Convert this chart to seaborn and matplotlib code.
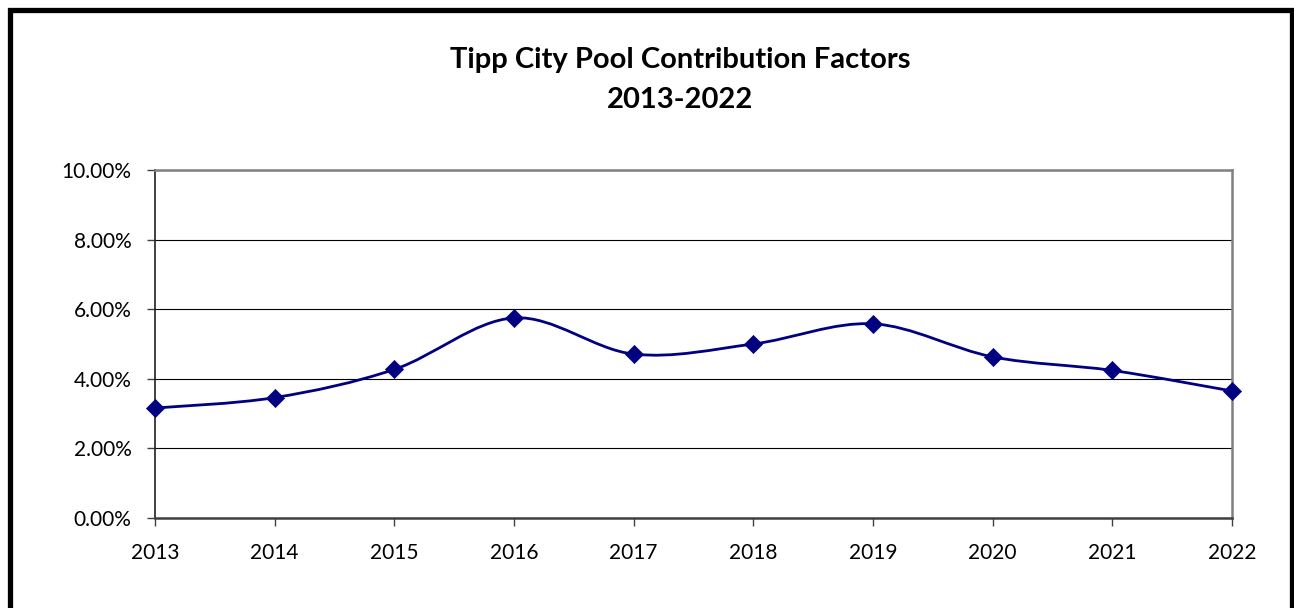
import numpy as np
import pandas as pd
import seaborn as sns
import matplotlib
matplotlib.use('Agg')
import matplotlib.pyplot as plt
from matplotlib.path import Path
from matplotlib.patches import PathPatch, Rectangle
from matplotlib.ticker import PercentFormatter

years = ["2013", "2014", "2015", "2016", "2017", "2018", "2019", "2020", "2021", "2022"]
factors = [3.16, 3.46, 4.27, 5.75, 4.71, 5.00, 5.58, 4.63, 4.24, 3.65]
y_ticks = [0, 2, 4, 6, 8, 10]
title_lines = ["Tipp City Pool Contribution Factors", "2013-2022"]

line_color = "#000080"

sns.set_theme(style="white")
plt.rcParams['font.family'] = ['Lato', 'DejaVu Sans']

df = pd.DataFrame({"year": years, "factor": factors})

fig = plt.figure(figsize=(12.94, 6.08), dpi=100)
ax = fig.add_axes([155 / 1294, 1 - 518 / 608, (1232 - 155) / 1294, (518 - 170) / 608])

# smoothed line like excel: bezier segments through the points
xs = np.arange(len(df))
ys = df["factor"].to_numpy()
verts = [(xs[0], ys[0])]
codes = [Path.MOVETO]
for i in range(len(xs) - 1):
    p0 = (xs[max(i - 1, 0)], ys[max(i - 1, 0)])
    p1 = (xs[i], ys[i])
    p2 = (xs[i + 1], ys[i + 1])
    p3 = (xs[min(i + 2, len(xs) - 1)], ys[min(i + 2, len(xs) - 1)])
    c1 = (p1[0] + (p2[0] - p0[0]) / 6, p1[1] + (p2[1] - p0[1]) / 6)
    c2 = (p2[0] - (p3[0] - p1[0]) / 6, p2[1] - (p3[1] - p1[1]) / 6)
    verts += [c1, c2, p2]
    codes += [Path.CURVE4] * 3
ax.add_patch(PathPatch(Path(verts, codes), facecolor="none", edgecolor=line_color, lw=2, zorder=3))

sns.scatterplot(data=df, x="year", y="factor", marker="D", s=85, color=line_color,
                edgecolor=line_color, linewidth=0.5, ax=ax, zorder=4, clip_on=False)

ax.set_xlim(0, len(years) - 1)
ax.set_ylim(0, 10)
ax.set_yticks(y_ticks)
ax.yaxis.set_major_formatter(PercentFormatter(decimals=2))
ax.set_xlabel("")
ax.set_ylabel("")
ax.grid(axis="y", color="black", lw=0.8)
ax.set_axisbelow(True)

for side in ["top", "right"]:
    ax.spines[side].set_color("#808080")
    ax.spines[side].set_linewidth(1.8)
ax.spines["left"].set_color("#202020")
ax.spines["bottom"].set_color("#404040")
ax.spines["left"].set_linewidth(1.2)
ax.spines["bottom"].set_linewidth(1.8)

ax.tick_params(axis="both", which="both", direction="out", length=6, width=1, color="#404040",
               left=True, bottom=True, labelsize=15)
ax.tick_params(axis="y", pad=11)
ax.tick_params(axis="x", pad=12)
for lbl in ax.get_xticklabels() + ax.get_yticklabels():
    lbl.set_color("black")

fig.text(680 / 1294, 1 - 60 / 608, title_lines[0], ha="center", va="center",
         fontsize=21, fontweight="bold", color="black")
fig.text(680 / 1294, 1 - 100 / 608, title_lines[1], ha="center", va="center",
         fontsize=21, fontweight="bold", color="black")

fig.patches.append(Rectangle((9.5 / 1294, -0.05), 1282 / 1294, 1.05 - 9.5 / 608, transform=fig.transFigure,
                             fill=False, edgecolor="black", lw=3.8))

fig.savefig("out.png", dpi=100)
